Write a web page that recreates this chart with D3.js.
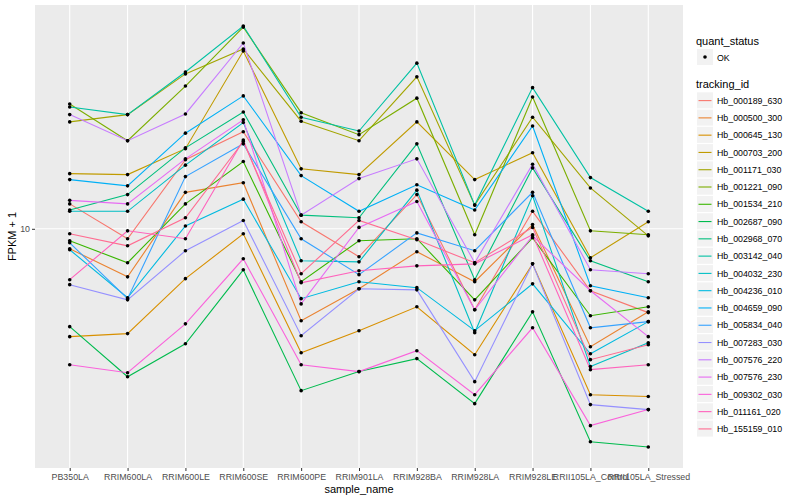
<!DOCTYPE html>
<html>
<head>
<meta charset="utf-8">
<script src="https://cdn.jsdelivr.net/npm/d3@7"></script>
<style>
  body { margin: 0; background: #fff; }
  text { font-family: "Liberation Sans", Arial, sans-serif; }
</style>
</head>
<body>
<div class="chart"></div>
<script>
var svgWidth = 800;
var svgHeight = 500;

// panel box (ggplot grey panel)
var panel = { left: 35, right: 683, top: 5, bottom: 468 };

// sample names on the x axis
var samples = ["PB350LA", "RRIM600LA", "RRIM600LE", "RRIM600SE", "RRIM600PE",
  "RRIM901LA", "RRIM928BA", "RRIM928LA", "RRIM928LE",
  "RRII105LA_Control", "RRII105LA_Stressed"];

var trackingIds = ["Hb_000189_630", "Hb_000500_300", "Hb_000645_130", "Hb_000703_200",
  "Hb_001171_030", "Hb_001221_090", "Hb_001534_210", "Hb_002687_090", "Hb_002968_070",
  "Hb_003142_040", "Hb_004032_230", "Hb_004236_010", "Hb_004659_090", "Hb_005834_040",
  "Hb_007283_030", "Hb_007576_220", "Hb_007576_230", "Hb_009302_030", "Hb_011161_020",
  "Hb_155159_010"];

// FPKM + 1 per sample
var hb_000189_630 = [11.9, 9.33, 16.2, 19.7, 10.5, 8.23, 12.7, 5.68, 11.3, 6.49, 5.57];
var hb_000500_300 = [8.70, 7.15, 12.9, 13.8, 5.26, 6.58, 8.52, 6.91, 10.3, 4.39, 5.60];
var hb_000645_130 = [4.71, 4.81, 7.06, 9.66, 4.21, 4.91, 5.80, 4.15, 7.83, 3.14, 3.10];
var hb_000703_200 = [14.7, 14.6, 17.5, 34.6, 15.2, 14.6, 21.1, 14.1, 17.0, 8.17, 10.5];
var hb_001171_030 = [21.1, 22.2, 29.5, 35.1, 21.2, 18.5, 28.9, 11.8, 21.8, 13.3, 9.52];
var hb_001221_090 = [23.9, 18.5, 27.1, 40.9, 22.5, 19.3, 24.9, 9.59, 25.1, 9.86, 9.59];
var hb_001534_210 = [9.20, 7.89, 11.9, 16.0, 6.91, 9.20, 9.33, 6.09, 9.39, 5.45, 5.80];
var hb_002687_090 = [5.05, 3.56, 4.48, 7.51, 3.23, 3.69, 4.04, 2.95, 5.60, 2.26, 2.18];
var hb_002968_070 = [11.4, 12.7, 17.6, 22.6, 11.0, 10.8, 18.1, 7.01, 15.3, 8.00, 6.91];
var hb_003142_040 = [23.4, 22.2, 29.9, 41.2, 21.8, 19.8, 31.8, 11.8, 26.8, 14.3, 11.3];
var hb_004032_230 = [11.3, 11.3, 15.6, 21.0, 8.00, 7.94, 13.1, 4.84, 12.6, 3.82, 4.51];
var hb_004236_010 = [8.64, 6.18, 10.2, 12.3, 6.14, 6.91, 6.63, 4.91, 6.81, 4.18, 5.23];
var hb_004659_090 = [14.1, 13.5, 19.5, 25.3, 14.5, 11.3, 13.6, 11.4, 20.5, 6.72, 6.18];
var hb_005834_040 = [9.07, 6.14, 14.4, 18.1, 9.33, 7.26, 9.72, 8.58, 12.9, 5.01, 5.23];
var hb_007283_030 = [6.77, 6.09, 8.58, 10.6, 4.74, 6.58, 6.53, 3.44, 7.83, 2.93, 2.83];
var hb_007576_220 = [22.2, 18.5, 22.3, 36.6, 11.0, 14.2, 16.3, 7.89, 15.7, 7.51, 7.31];
var hb_007576_230 = [12.2, 11.9, 16.3, 21.4, 5.92, 10.1, 12.1, 5.68, 9.52, 6.49, 4.71];
var hb_009302_030 = [3.87, 3.66, 5.15, 8.11, 3.87, 3.69, 4.27, 3.14, 5.01, 2.53, 2.83];
var hb_011161_020 = [7.01, 9.86, 9.33, 18.6, 6.86, 7.46, 7.72, 7.83, 9.59, 3.74, 3.87];
var hb_155159_010 = [9.66, 8.88, 10.8, 18.4, 7.31, 10.6, 9.26, 7.89, 10.1, 4.01, 4.45];

var yTicks = [10];

var seriesValues = [hb_000189_630, hb_000500_300, hb_000645_130, hb_000703_200,
  hb_001171_030, hb_001221_090, hb_001534_210, hb_002687_090, hb_002968_070,
  hb_003142_040, hb_004032_230, hb_004236_010, hb_004659_090, hb_005834_040,
  hb_007283_030, hb_007576_220, hb_007576_230, hb_009302_030, hb_011161_020,
  hb_155159_010];

// ggplot default hue palette for 20 groups
var colors = ["#F8766D", "#EA8331", "#D89000", "#C09B00", "#A3A500", "#7CAE00",
  "#39B600", "#00BB4E", "#00BF7D", "#00C1A3", "#00BFC4", "#00BAE0", "#00B0F6",
  "#35A2FF", "#9590FF", "#C77CFF", "#E76BF3", "#FA62DB", "#FF62BC", "#FF6C91"];

var series = trackingIds.map(function(id, i) {
  return {
    id: id,
    color: colors[i],
    points: samples.map(function(s, j) { return { sample: s, value: seriesValues[i][j] }; })
  };
});

var svg = d3.select(".chart")
  .append("svg")
  .attr("width", svgWidth)
  .attr("height", svgHeight);

svg.append("rect")
  .attr("x", panel.left)
  .attr("y", panel.top)
  .attr("width", panel.right - panel.left)
  .attr("height", panel.bottom - panel.top)
  .attr("fill", "#EBEBEB");

var xScale = d3.scalePoint()
  .domain(samples)
  .range([panel.left, panel.right])
  .padding(0.6);

// log scale with 5% expansion (in log space) like ggplot
var allValues = d3.merge(seriesValues);
var lo = Math.log10(d3.min(allValues));
var hi = Math.log10(d3.max(allValues));
var pad = (hi - lo) * 0.05;
var yScale = d3.scaleLog()
  .domain([Math.pow(10, lo - pad), Math.pow(10, hi + pad)])
  .range([panel.bottom, panel.top]);

// grid lines
var grid = svg.append("g");
grid.selectAll(".vgrid")
  .data(samples)
  .enter()
  .append("line")
  .attr("x1", d => xScale(d))
  .attr("x2", d => xScale(d))
  .attr("y1", panel.top)
  .attr("y2", panel.bottom)
  .attr("stroke", "#fff")
  .attr("stroke-width", 1.1);
grid.selectAll(".hgrid")
  .data(yTicks)
  .enter()
  .append("line")
  .attr("x1", panel.left)
  .attr("x2", panel.right)
  .attr("y1", d => yScale(d))
  .attr("y2", d => yScale(d))
  .attr("stroke", "#fff")
  .attr("stroke-width", 1.1);

// lines
var line = d3.line()
  .x(d => xScale(d.sample))
  .y(d => yScale(d.value));

svg.append("g")
  .selectAll("path")
  .data(series)
  .enter()
  .append("path")
  .attr("d", d => line(d.points))
  .attr("fill", "none")
  .attr("stroke", d => d.color)
  .attr("stroke-width", 1.1);

// points (quant_status = OK, all black)
svg.append("g")
  .selectAll("circle")
  .data(d3.merge(series.map(s => s.points)))
  .enter()
  .append("circle")
  .attr("cx", d => xScale(d.sample))
  .attr("cy", d => yScale(d.value))
  .attr("r", 1.8)
  .attr("fill", "#000");

// axes
var bottomAxis = d3.axisBottom(xScale).tickSize(3).tickPadding(3);
var leftAxis = d3.axisLeft(yScale).tickValues(yTicks).tickSize(3).tickPadding(2)
  .tickFormat(d3.format("d"));

var xAxis = svg.append("g")
  .attr("transform", `translate(0, ${panel.bottom})`)
  .call(bottomAxis);
var yAxis = svg.append("g")
  .attr("transform", `translate(${panel.left}, 0)`)
  .call(leftAxis);

[xAxis, yAxis].forEach(function(ax) {
  ax.select(".domain").remove();
  ax.selectAll(".tick line").attr("stroke", "#333333");
  ax.selectAll(".tick text")
    .attr("fill", "#4D4D4D")
    .style("font-size", "8.8px");
});

svg.append("text")
  .attr("x", (panel.left + panel.right) / 2)
  .attr("y", 493)
  .attr("text-anchor", "middle")
  .style("font-size", "11px")
  .text("sample_name");

svg.append("text")
  .attr("transform", `translate(16, ${(panel.top + panel.bottom) / 2}) rotate(-90)`)
  .attr("text-anchor", "middle")
  .style("font-size", "11px")
  .text("FPKM + 1");

// legends
var legend = svg.append("g").attr("transform", "translate(696, 0)");

legend.append("text")
  .attr("x", 0)
  .attr("y", 45)
  .style("font-size", "11px")
  .text("quant_status");

legend.append("rect")
  .attr("x", 1).attr("y", 49)
  .attr("width", 16).attr("height", 16)
  .attr("fill", "#F2F2F2");
legend.append("circle")
  .attr("cx", 9).attr("cy", 57)
  .attr("r", 1.8)
  .attr("fill", "#000");
legend.append("text")
  .attr("x", 21).attr("y", 60.5)
  .style("font-size", "8.8px")
  .text("OK");

legend.append("text")
  .attr("x", 0)
  .attr("y", 88)
  .style("font-size", "11px")
  .text("tracking_id");

var keys = legend.selectAll(".key")
  .data(series)
  .enter()
  .append("g")
  .attr("transform", (d, i) => `translate(1, ${92.3 + i * 17.28})`);

keys.append("rect")
  .attr("width", 16).attr("height", 16)
  .attr("fill", "#F2F2F2");
keys.append("line")
  .attr("x1", 1.5).attr("x2", 14.5)
  .attr("y1", 8.3).attr("y2", 8.3)
  .attr("stroke", d => d.color)
  .attr("stroke-width", 1.1);
keys.append("text")
  .attr("x", 20).attr("y", 11.5)
  .style("font-size", "8.8px")
  .text(d => d.id);
</script>
</body>
</html>
